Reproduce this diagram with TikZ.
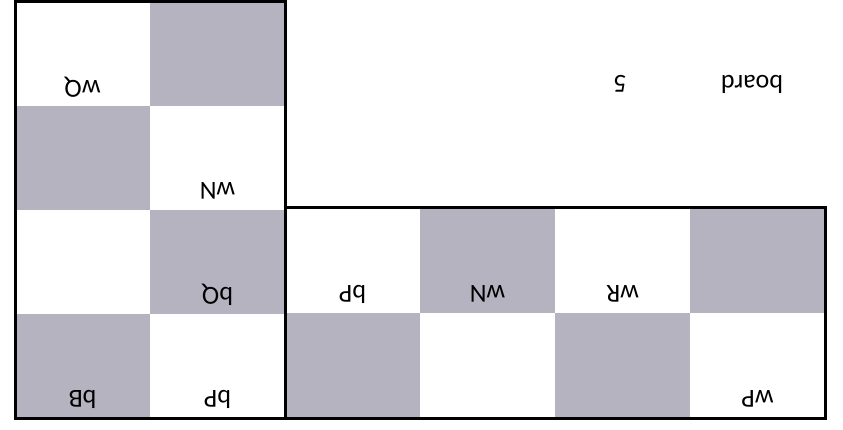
\documentclass[tikz,border=0pt]{standalone}
\usepackage{fontspec}
\setmainfont{Carlito}
\definecolor{boardGrey}{HTML}{B5B3BF}
\begin{document}
\begin{tikzpicture}[x=1pt, y=-1pt,
  cell/.style={draw=none, inner sep=0pt, outer sep=0pt,
    minimum width=135pt, minimum height=#1},
  cell/.default=105pt,
  piece/.style={rotate=180, inner sep=0pt, font=\fontsize{26}{30}\selectfont},
  frame/.style={draw=black, line width=3pt}]
\useasboundingbox (0,0) rectangle (843,430);

%% upside-down board ===================================================

\def\cw{135}               % cell width
\def\xL{15}   \def\yL{2}   \def\chL{104}   % left block, 2 x 4
\def\xR{285}  \def\yR{208} \def\chR{105}   % right block, 4 x 2

% --- LEFT BLOCK ---
\foreach \c/\r/\f/\lab in {0/0/white/wQ, 1/0/boardGrey/{},
    0/1/boardGrey/{}, 1/1/white/wN,
    0/2/white/{}, 1/2/boardGrey/bQ,
    0/3/boardGrey/bB, 1/3/white/bP} {
  \pgfmathsetmacro\xa{\xL + \c*\cw}
  \pgfmathsetmacro\ya{\yL + \r*\chL}
  \node[cell=\chL pt, fill=\f] (l\c\r) at (\xa + \cw/2, \ya + \chL/2) {};
  \node[piece] (lp\c\r) at (\xa + \cw/2, \ya + \chL - 19) {\lab};
}

% --- RIGHT BLOCK ---
\foreach \c/\r/\f/\lab in {0/0/white/bP, 1/0/boardGrey/wN,
    2/0/white/wR, 3/0/boardGrey/{},
    0/1/boardGrey/{}, 1/1/white/{}, 2/1/boardGrey/{}, 3/1/white/wP} {
  \pgfmathsetmacro\xa{\xR + \c*\cw}
  \pgfmathsetmacro\ya{\yR + \r*\chR}
  \node[cell=\chR pt, fill=\f] (r\c\r) at (\xa + \cw/2, \ya + \chR/2) {};
  \node[piece] (rp\c\r) at (\xa + \cw/2, \ya + \chR - 19) {\lab};
}

% --- FRAMES ---
\draw[frame] (\xL, \yL) rectangle (285, 418);
\draw[frame] (\xR, \yR) rectangle (825, 418);

% --- TITLE ---
\node[piece] (boardname) at (752, 84) {board};
\node[piece] (boardnum) at (620, 84) {5};

\end{tikzpicture}
\end{document}
